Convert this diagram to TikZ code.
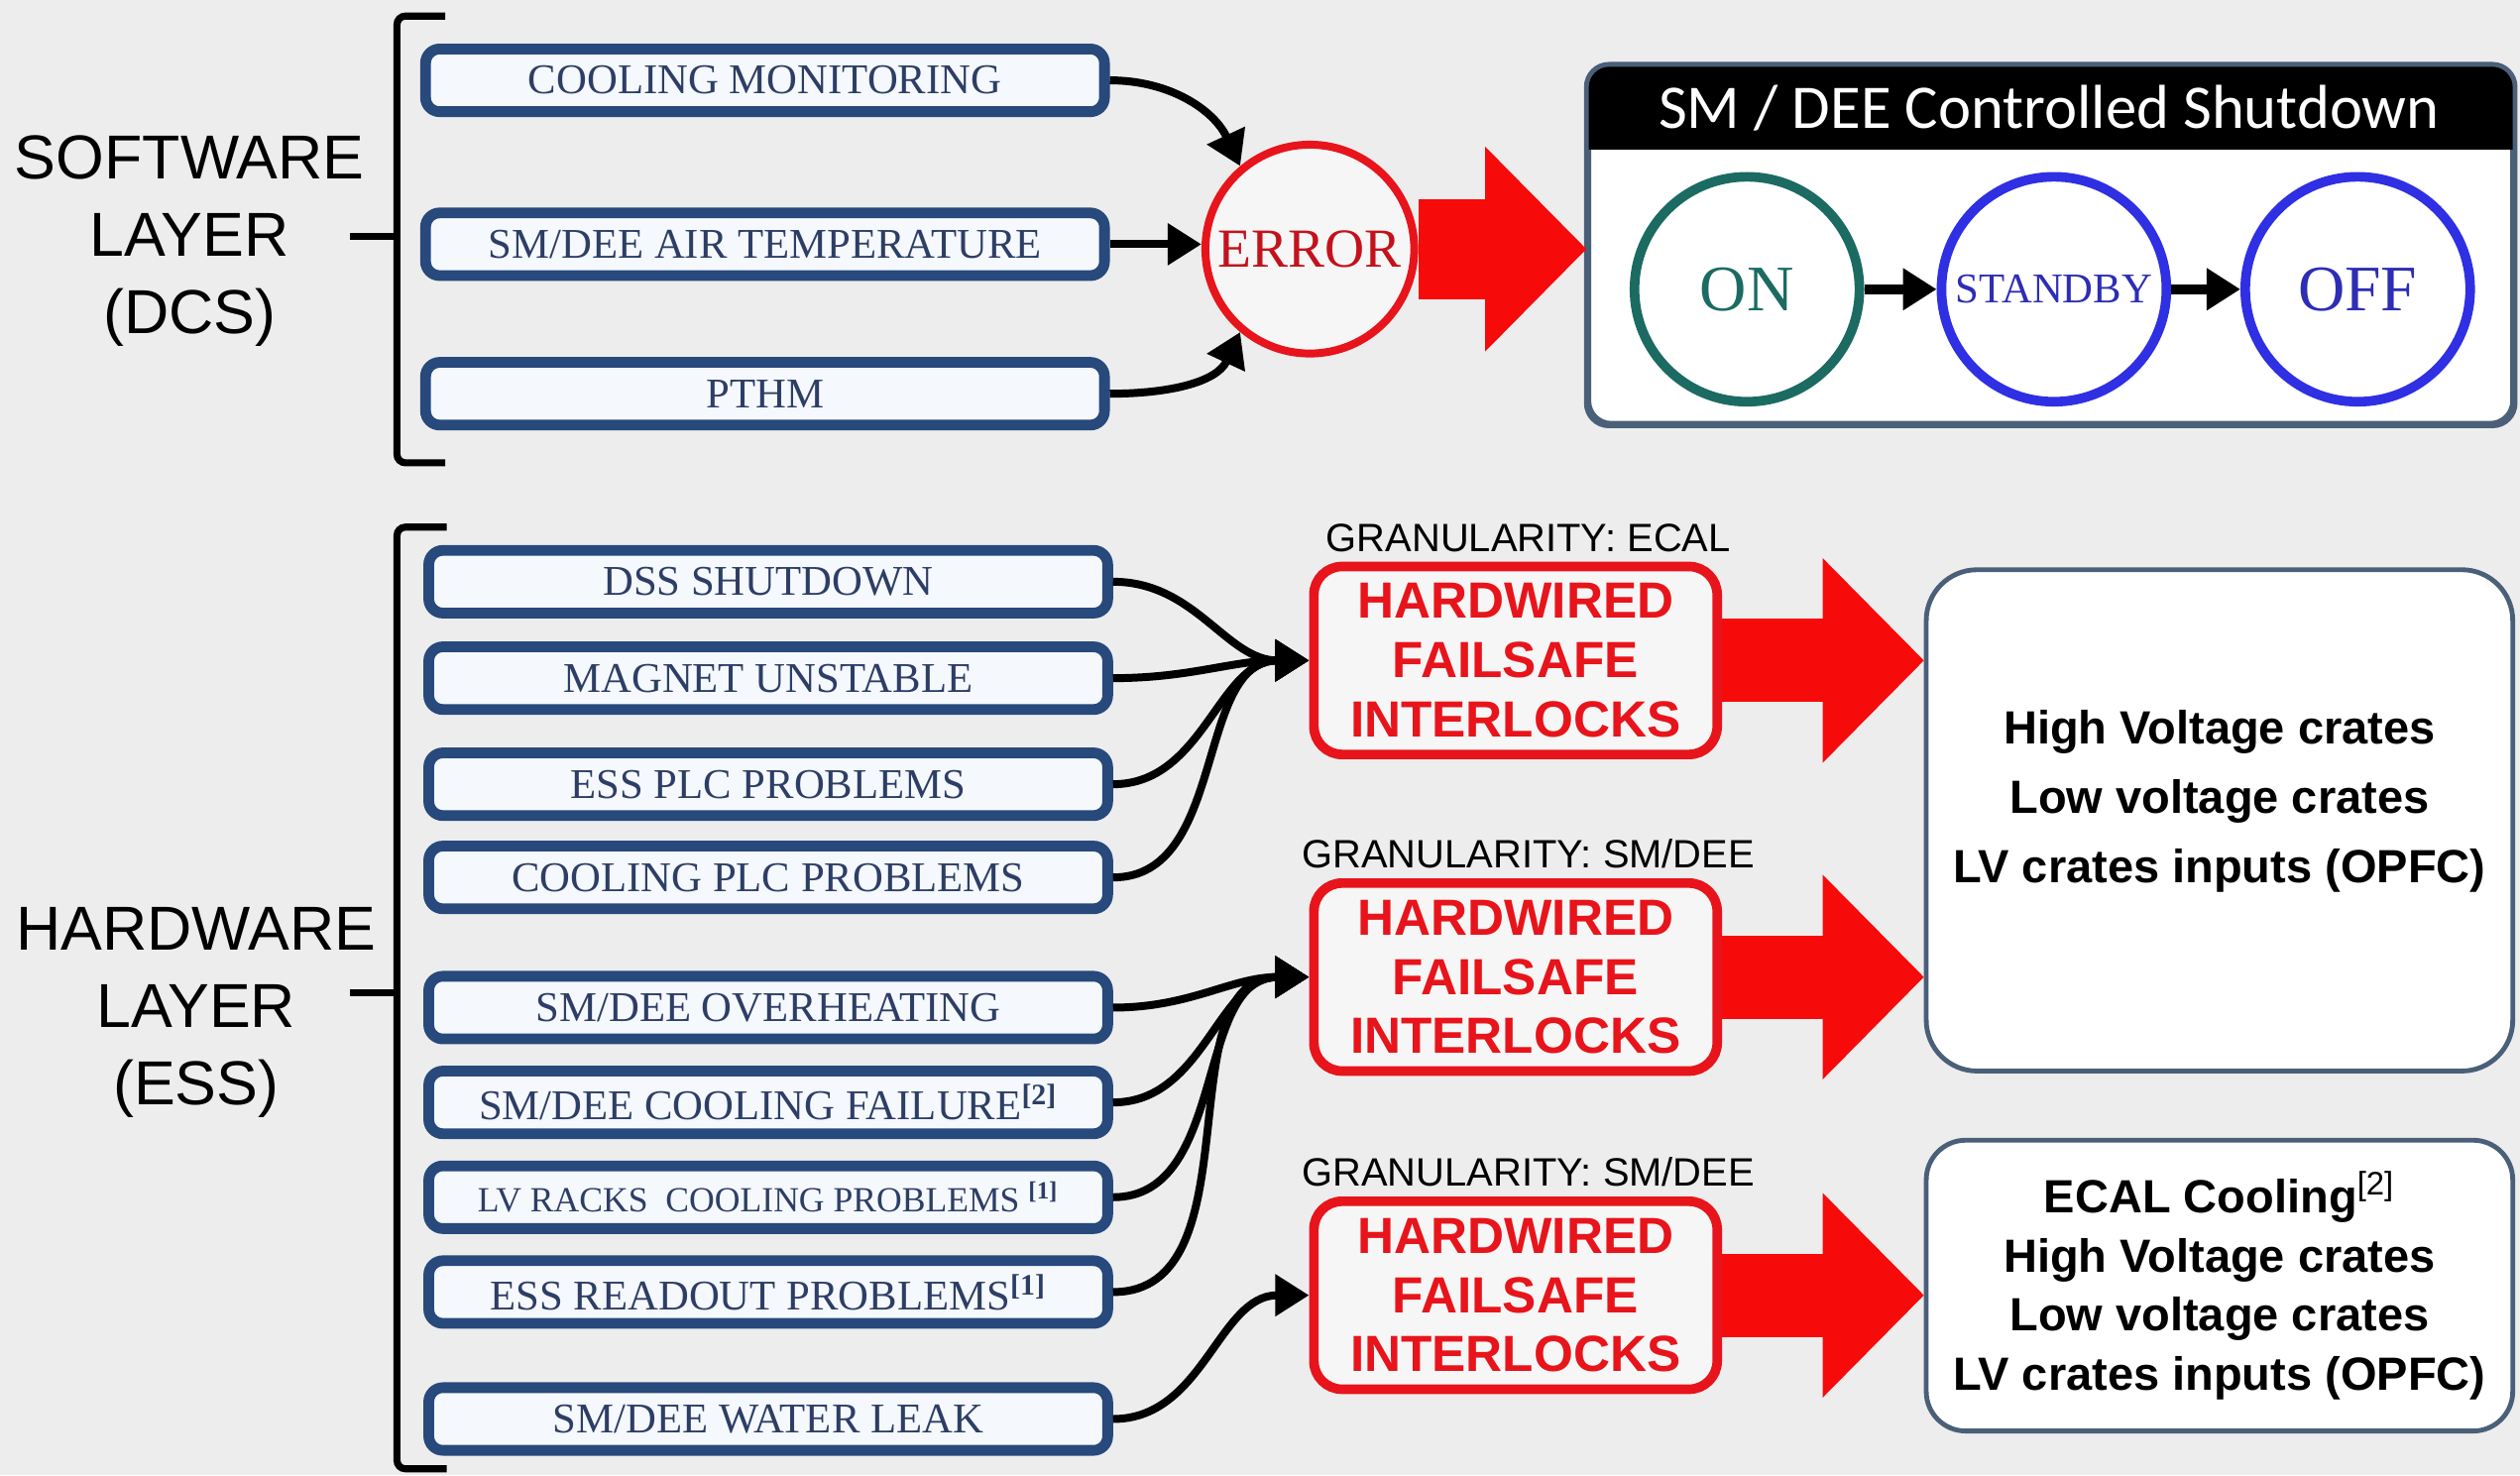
\documentclass[tikz,border=0pt]{standalone}
\usepackage{fontspec}
\setmainfont{Liberation Serif}
\setsansfont{Liberation Sans}
\newfontfamily\titlefont{Carlito}
\usetikzlibrary{arrows.meta,calc,positioning}
\definecolor{PaperGray}{HTML}{EDEDED}
\definecolor{BoxBlue}{HTML}{27497C}
\definecolor{BoxInk}{HTML}{2D3E66}
\definecolor{BoxFill}{HTML}{F5F8FC}
\definecolor{AlarmRed}{HTML}{E8141B}
\definecolor{AlarmInk}{HTML}{C3121C}
\definecolor{ArrowRed}{HTML}{F70A0A}
\definecolor{OnTeal}{HTML}{1B6B62}
\definecolor{StateBlue}{HTML}{2F2FE3}
\definecolor{StateInk}{HTML}{2D2DB5}
\definecolor{Slate}{HTML}{4A5F78}

\tikzset{
  srcbox/.style={draw=BoxBlue,fill=BoxFill,line width=3.8pt,rounded corners=5pt,minimum width=8.45cm,minimum height=0.78cm,inner sep=0pt,text=BoxInk,font=\fontsize{15}{18}\selectfont},
  layerlabel/.style={align=center,font=\sffamily\fontsize{22}{27.3}\selectfont},
  wire/.style={line width=2.8pt,-{Triangle[length=0.42cm,width=0.5cm]}},
  stepwire/.style={line width=3.6pt,-{Triangle[length=0.42cm,width=0.5cm]}},
  bracket/.style={line width=2.5pt,rounded corners=3pt},
  statenode/.style={circle,line width=3.4pt,minimum size=2.8cm,inner sep=0pt,fill=white,font=\fontsize{23}{23}\selectfont},
  lockbox/.style={draw=AlarmRed,fill=white!50!PaperGray,line width=3.4pt,rounded corners=10pt,minimum width=5.02cm,minimum height=2.34cm,align=center,text=AlarmRed,font=\sffamily\bfseries\fontsize{18}{21}\selectfont},
  granlabel/.style={font=\sffamily\fontsize{14}{16}\selectfont},
  bigarrow/.style={ArrowRed,line width=1.04cm,-{Triangle[length=1.26cm,width=2.55cm,line width'=0pt]}},
  outbox/.style={draw=Slate,fill=white,line width=1.7pt,minimum width=7.3cm,align=center,font=\sffamily\bfseries\fontsize{16.5}{24.5}\selectfont}
}

\begin{document}
\begin{tikzpicture}[x=0.02cm,y=-0.02cm]
  \fill[PaperGray] (0,0) rectangle (1568,918);
  \useasboundingbox (0,0) rectangle (1568,918);

  % software layer
  \node[layerlabel] (swlabel) at (118,150) {SOFTWARE\\LAYER\\(DCS)};
  \draw[bracket] (277,10) -- (247,10) -- (247,288) -- (277,288);
  \draw[bracket] (247,147) -- (218,147);
  \node[srcbox] (coolmon) at (476,50) {COOLING MONITORING};
  \node[srcbox] (airtemp) at (476,152) {SM/DEE AIR TEMPERATURE};
  \node[srcbox] (pthm) at (476,245) {PTHM};

  \node[circle,draw=AlarmRed,fill=white!50!PaperGray,line width=2.8pt,minimum size=2.6cm,inner sep=0pt,text=AlarmInk,font=\fontsize{19.5}{20}\selectfont] (error) at (815,155) {ERROR};
  \draw[wire] (coolmon.east) to[out=0,in=115] (error.130);
  \draw[wire] (airtemp.east) -- (airtemp.east -| error.west);
  \draw[wire] (pthm.east) to[out=0,in=-115] (error.230);

  % controlled shutdown
  \node[draw=Slate,fill=white,line width=1.7pt,rounded corners=8pt,minimum width=11.5cm,minimum height=4.44cm] (shutdown) at (1276,152.5) {};
  \begin{scope}
    \clip[rounded corners=8pt] (shutdown.south west) rectangle (shutdown.north east);
    \fill[black] (shutdown.north west) rectangle ($(shutdown.north east)+(0,53)$);
  \end{scope}
  \draw[Slate,line width=1.7pt,rounded corners=8pt] (shutdown.south west) rectangle (shutdown.north east);
  \node[text=white,font=\titlefont\fontsize{22}{22}\selectfont] (shuttitle) at (1275,67) {SM / DEE Controlled Shutdown};
  \node[statenode,draw=OnTeal,text=OnTeal] (on) at (1087,180) {ON};
  \node[statenode,draw=StateBlue,text=StateInk,font=\fontsize{15}{15}\selectfont] (standby) at (1278,180) {STANDBY};
  \node[statenode,draw=StateBlue,text=StateInk] (off) at (1467,180) {OFF};
  \draw[stepwire] (on) -- (standby);
  \draw[stepwire] (standby) -- (off);
  \draw[bigarrow,line width=1.24cm] (error.east) -- (error.east -| shutdown.west);

  % hardware layer
  \node[layerlabel] (hwlabel) at (122,630) {HARDWARE\\LAYER\\(ESS)};
  \draw[bracket] (278,328) -- (247,328) -- (247,914) -- (278,914);
  \draw[bracket] (247,618) -- (218,618);
  \node[srcbox] (dss) at (478,362) {DSS SHUTDOWN};
  \node[srcbox] (magnet) at (478,422) {MAGNET UNSTABLE};
  \node[srcbox] (essplc) at (478,488) {ESS PLC PROBLEMS};
  \node[srcbox] (coolplc) at (478,546) {COOLING PLC PROBLEMS};
  \node[srcbox] (overheat) at (478,627) {SM/DEE OVERHEATING};
  \node[srcbox] (coolfail) at (478,686) {SM/DEE COOLING FAILURE\textsuperscript{\bfseries[2]}};
  \node[srcbox,font=\fontsize{12.5}{14}\selectfont] (lvracks) at (478,745) {LV RACKS\ \ COOLING PROBLEMS \textsuperscript{\bfseries[1]}};
  \node[srcbox] (readout) at (478,804) {ESS READOUT PROBLEMS\textsuperscript{\bfseries[1]}};
  \node[srcbox] (leak) at (478,883) {SM/DEE WATER LEAK};

  \node[lockbox] (lockA) at (943,411) {HARDWIRED\\FAILSAFE\\INTERLOCKS};
  \node[lockbox] (lockB) at (943,608) {HARDWIRED\\FAILSAFE\\INTERLOCKS};
  \node[lockbox] (lockC) at (943,806) {HARDWIRED\\FAILSAFE\\INTERLOCKS};
  \node[granlabel,above=0pt of lockA,xshift=0.16cm] (granA) {GRANULARITY: ECAL};
  \node[granlabel,above=0pt of lockB,xshift=0.16cm] (granB) {GRANULARITY: SM/DEE};
  \node[granlabel,above=0pt of lockC,xshift=0.16cm] (granC) {GRANULARITY: SM/DEE};

  \draw[wire] (dss.east) to[out=0,in=180] (lockA.west);
  \draw[wire] (magnet.east) to[out=0,in=180] (lockA.west);
  \draw[wire] (essplc.east) to[out=0,in=180] (lockA.west);
  \draw[wire] (coolplc.east) to[out=0,in=180] (lockA.west);
  \draw[wire] (overheat.east) to[out=0,in=180] (lockB.west);
  \draw[wire] (coolfail.east) to[out=0,in=180] (lockB.west);
  \draw[wire] (lvracks.east) to[out=0,in=180] (lockB.west);
  \draw[wire] (readout.east) to[out=0,in=180] (lockB.west);
  \draw[wire] (leak.east) to[out=0,in=180] (lockC.west);

  \node[outbox,rounded corners=18pt,minimum height=6.24cm,label={[align=center,yshift=0.24cm,font=\sffamily\bfseries\fontsize{16.5}{24.5}\selectfont]center:{High Voltage crates\\Low voltage crates\\LV crates inputs (OPFC)}}] (outA) at (1381,510.5) {};
  \node[outbox,rounded corners=14pt,minimum height=3.62cm,font=\sffamily\bfseries\fontsize{16.5}{21}\selectfont] (outB) at (1381,800) {ECAL Cooling\textsuperscript{\mdseries[2]}\\High Voltage crates\\Low voltage crates\\LV crates inputs (OPFC)};

  \draw[bigarrow] (lockA.east) -- (lockA.east -| outA.west);
  \draw[bigarrow] (lockB.east) -- (lockB.east -| outA.west);
  \draw[bigarrow] (lockC.east) -- (lockC.east -| outB.west);
\end{tikzpicture}
\end{document}
